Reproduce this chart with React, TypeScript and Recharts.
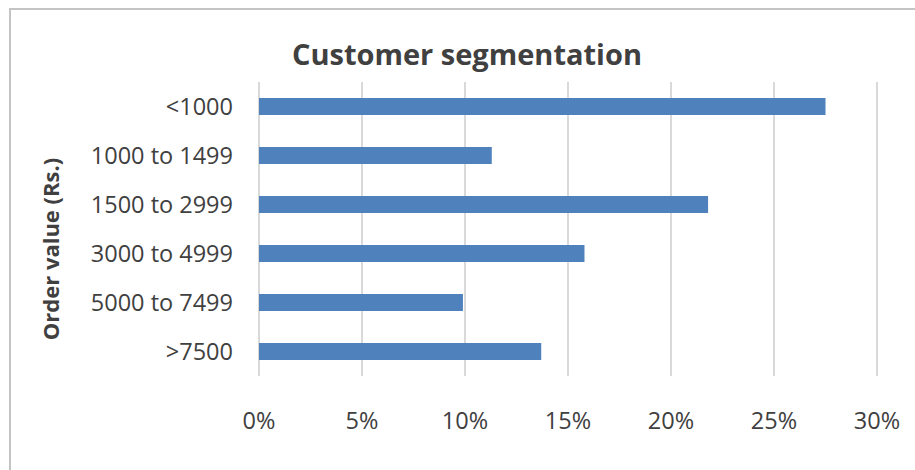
import { Bar, BarChart, CartesianGrid, XAxis, YAxis } from 'recharts';

const categories = ['<1000', '1000 to 1499', '1500 to 2999', '3000 to 4999', '5000 to 7499', '>7500'];
const shares = [0.275, 0.113, 0.218, 0.158, 0.099, 0.137];
const xTicks = [0, 0.05, 0.1, 0.15, 0.2, 0.25, 0.3];

const data = categories.map((name, i) => ({ name, share: shares[i] }));

const FONT = '"Open Sans", sans-serif';
const TEXT = '#404040';

export default function App() {
  return (
    <div style={{ position: 'fixed', left: 0, top: 0, width: 915, height: 470, background: '#fff', fontFamily: FONT }}>
      <div
        style={{
          position: 'absolute',
          left: 9,
          top: 8,
          right: 0,
          bottom: 0,
          borderLeft: '2px solid #c4c4c4',
          borderTop: '2px solid #c4c4c4',
        }}
      />
      <div
        style={{
          position: 'absolute',
          left: 0,
          width: 934,
          top: 34,
          textAlign: 'center',
          fontSize: 29,
          fontWeight: 700,
          color: TEXT,
          lineHeight: '40px',
        }}
      >
        Customer segmentation
      </div>
      <div
        style={{
          position: 'absolute',
          left: 50,
          top: 249,
          transform: 'translate(-50%, -50%) rotate(-90deg)',
          whiteSpace: 'nowrap',
          fontSize: 22,
          fontWeight: 700,
          color: TEXT,
        }}
      >
        Order value (Rs.)
      </div>
      <BarChart
        width={915}
        height={470}
        data={data}
        layout="vertical"
        margin={{ top: 82, right: 38, bottom: 34, left: 80 }}
        style={{ position: 'absolute', left: 0, top: 0 }}
      >
        <CartesianGrid horizontal={false} stroke="#d9d9d9" strokeWidth={2} />
        <XAxis
          type="number"
          domain={[0, 0.3]}
          ticks={xTicks}
          tickFormatter={(v: number) => `${Math.round(v * 100)}%`}
          axisLine={false}
          tickLine={false}
          tickMargin={30}
          height={60}
          tick={{ fill: TEXT, fontSize: 23.5, fontFamily: FONT }}
        />
        <YAxis
          type="category"
          dataKey="name"
          width={179}
          axisLine={false}
          tickLine={false}
          tickMargin={20}
          tick={{ fill: TEXT, fontSize: 23.5, fontFamily: FONT }}
        />
        <Bar dataKey="share" fill="#4f81bd" barSize={17} isAnimationActive={false} />
      </BarChart>
    </div>
  );
}
